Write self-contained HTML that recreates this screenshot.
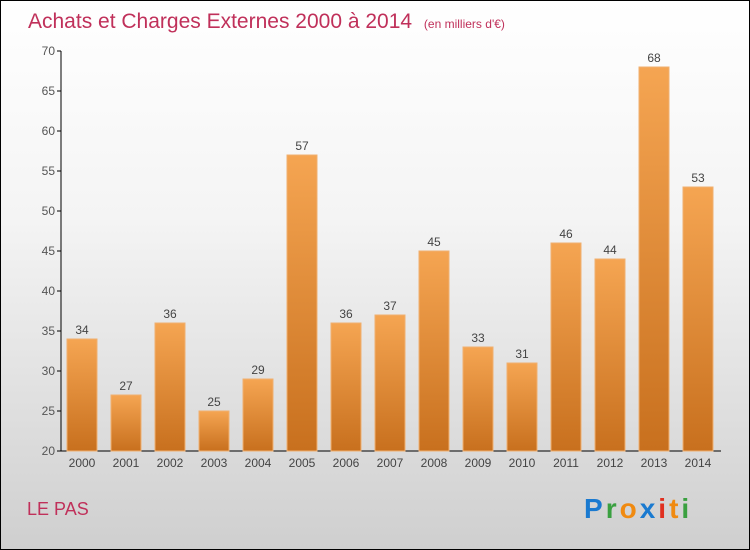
<!DOCTYPE html>
<html><head><meta charset="utf-8"><style>
body{margin:0}
#c{width:748px;height:548px;border:1px solid #000;background:linear-gradient(#ffffff,#f4f4f4 40%,#cfcfcf);position:relative;font-family:"Liberation Sans",sans-serif}
</style></head><body>
<div id="c">
<svg id="s" width="748" height="548" style="position:absolute;left:0;top:0">
<defs><linearGradient id="g" x1="0" y1="0" x2="0" y2="1"><stop offset="0" stop-color="#f5a552"/><stop offset="1" stop-color="#c8701e"/></linearGradient></defs>
<text x="27" y="27" font-size="21" fill="#c0305a">Achats et Charges Externes 2000 à 2014 <tspan font-size="12" dx="6">(en milliers d'€)</tspan></text>
<text x="26" y="514" font-size="18" fill="#c0305a">LE PAS</text>
<g font-size="28" font-weight="bold" font-family="Liberation Sans,sans-serif" letter-spacing="3">
<text x="583" y="517"><tspan fill="#1a7ad0">P</tspan><tspan fill="#3aa040">r</tspan><tspan fill="#f08a10">o</tspan><tspan fill="#1a7ad0">x</tspan><tspan fill="#e03020">i</tspan><tspan fill="#f08a10">t</tspan><tspan fill="#3aa040">i</tspan></text></g>
<g id="axes"></g><g id="bars"></g>
</svg></div>
<script>
const categories=["2000","2001","2002","2003","2004","2005","2006","2007","2008","2009","2010","2011","2012","2013","2014"];
const values=[34,27,36,25,29,57,36,37,45,33,31,46,44,68,53];
const yTicks=[20,25,30,35,40,45,50,55,60,65,70];
const NS="http://www.w3.org/2000/svg";
const s=document.getElementById('s'),ax=document.getElementById('axes'),bg=document.getElementById('bars');
const y=v=>450-(v-20)*8, x=i=>81+i*44;
function el(t,a,p){const e=document.createElementNS(NS,t);for(const k in a)e.setAttribute(k,a[k]);p.appendChild(e);return e;}
let l=el('line',{x1:60,y1:50,x2:60,y2:450,stroke:'#000'},ax);


l=el('line',{x1:60,y1:450,x2:720,y2:450,stroke:'#000'},ax);


yTicks.forEach(t=>{
 el('line',{x1:56,x2:60,y1:y(t),y2:y(t),stroke:'#000'},ax);
 const tx=el('text',{x:54,y:y(t)+4,'text-anchor':'end','font-size':12,fill:'#555'},ax);tx.textContent=t;
 
 
});
categories.forEach((c,i)=>{
 const r=el('rect',{x:x(i)-15,y:y(values[i]),width:30,height:450-y(values[i]),fill:'url(#g)',stroke:'#f0b070','stroke-width':1},bg);
 
 
 const v=el('text',{x:x(i),y:y(values[i])-5,'text-anchor':'middle','font-size':12,fill:'#444'},bg);v.textContent=values[i];
 
 
 const tx=el('text',{x:x(i),y:466,'text-anchor':'middle','font-size':12,fill:'#444'},ax);tx.textContent=c;
 
 
});
</script>
</body></html>
